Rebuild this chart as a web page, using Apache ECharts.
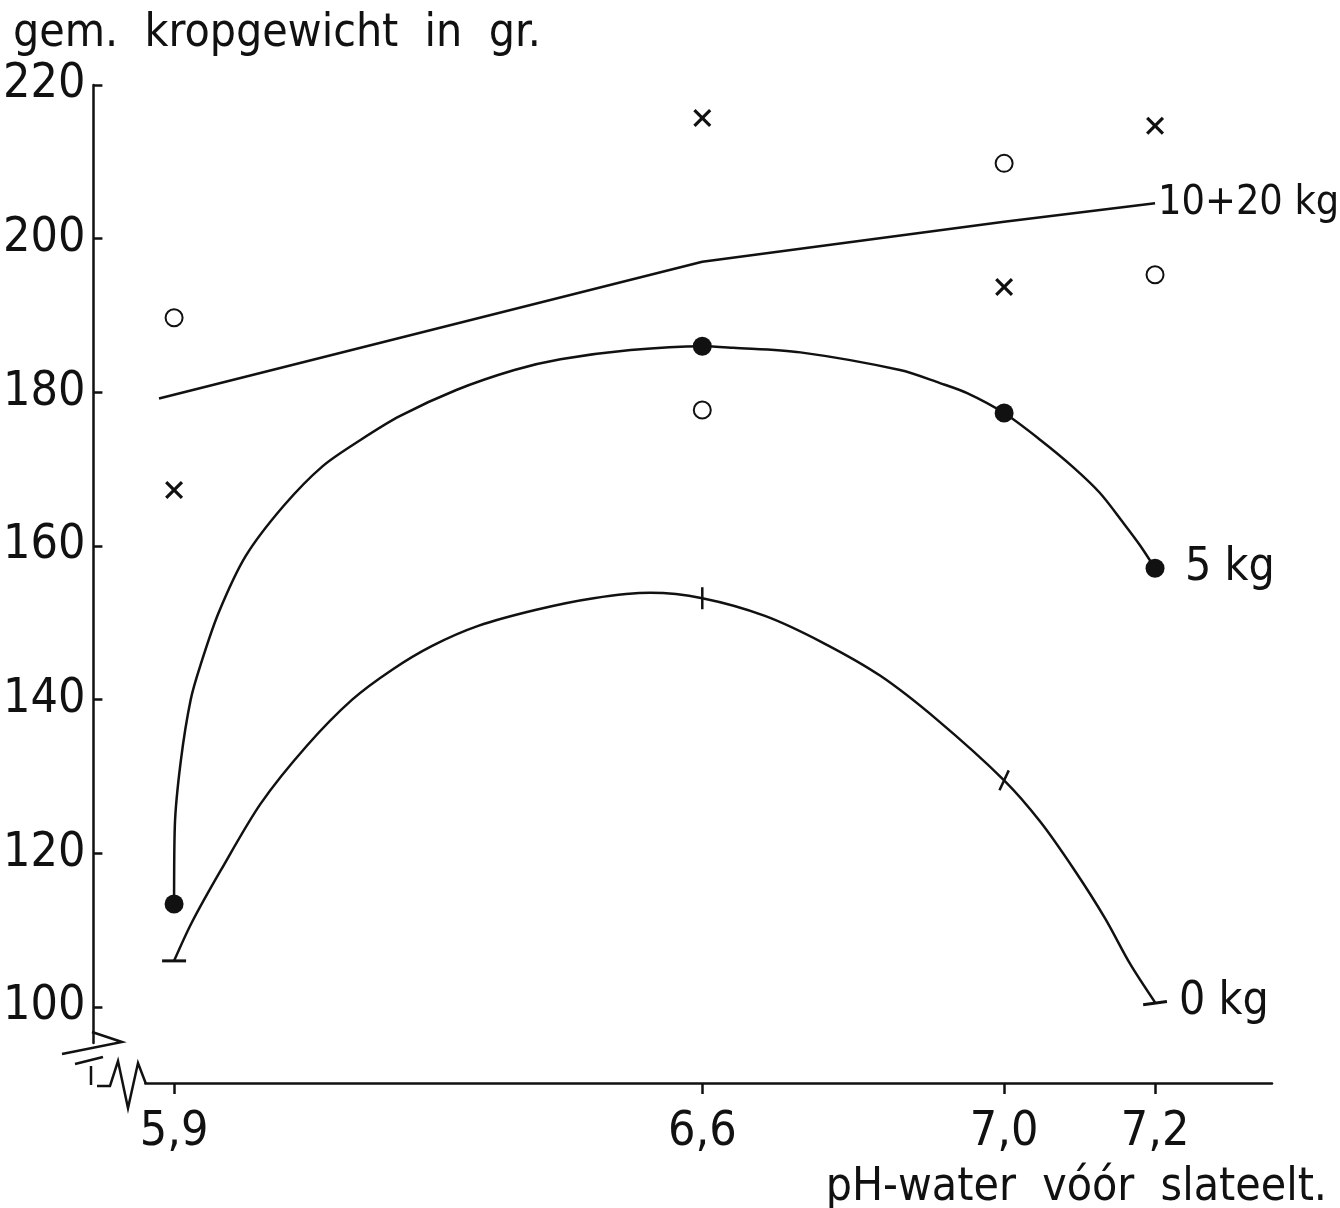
<!DOCTYPE html>
<html>
<head>
<meta charset="utf-8">
<title>kropgewicht</title>
<script src="https://cdn.jsdelivr.net/npm/echarts@6.0.0/dist/echarts.min.js"></script>
<style>
  html, body { margin: 0; padding: 0; background: #fff; }
  #chart { width: 1340px; height: 1208px; }
</style>
</head>
<body>
<div id="chart"></div>
<script>
const phTicks = [5.9, 6.6, 7.0, 7.2];
const weightTicks = [100, 120, 140, 160, 180, 200, 220];

// gemeten punten (pH, gram)
const open10kg = [[5.9, 189.7], [6.6, 177.7], [7.0, 209.8], [7.2, 195.3]];
const cross20kg = [[5.9, 167.3], [6.6, 215.7], [7.0, 193.7], [7.2, 214.7]];
const dots5kg = [[5.9, 113.4], [6.6, 186.0], [7.0, 177.3], [7.2, 157.1]];
const marks0kg = [[5.9, 106.0], [6.6, 153.2], [7.0, 129.5], [7.2, 100.5]];

// lijnen zoals getekend
const line1020kg = [[5.88, 179.2], [6.6, 197.0], [7.0, 202.2], [7.2, 204.6]];
const curve5kg = [
  [5.9, 113.4], [5.901, 123.6], [5.909, 132.1], [5.922, 140.0], [5.935, 144.5],
  [5.959, 151.3], [5.995, 158.7], [6.045, 165.2], [6.097, 170.4], [6.147, 173.8],
  [6.199, 176.9], [6.274, 180.3], [6.351, 182.9], [6.412, 184.3], [6.505, 185.5],
  [6.6, 186.0], [6.641, 185.8], [6.73, 185.2], [6.862, 182.9], [6.915, 181.2],
  [6.951, 179.9], [7.0, 177.3], [7.048, 173.8], [7.091, 170.3], [7.127, 166.9],
  [7.158, 163.0], [7.18, 160.1], [7.2, 157.1]
];
const curve0kg = [
  [5.9, 106.0], [5.923, 110.9], [5.962, 117.8], [6.015, 126.5], [6.076, 134.0],
  [6.136, 140.0], [6.189, 143.9], [6.242, 147.0], [6.303, 149.6], [6.38, 151.7],
  [6.456, 153.2], [6.531, 153.9], [6.6, 153.2], [6.683, 150.9], [6.76, 147.4],
  [6.836, 143.1], [6.911, 137.4], [7.0, 129.5], [7.048, 124.1], [7.094, 117.7],
  [7.134, 111.5], [7.167, 105.6], [7.2, 100.6]
];

const INK = '#111';
const FONT = '"Liberation Sans Narrow", "DejaVu Sans Condensed", "Liberation Sans", sans-serif';
const CROSS = 'path://M0,2.5L2.5,0L10,7.5L17.5,0L20,2.5L12.5,10L20,17.5L17.5,20L10,12.5L2.5,20L0,17.5L7.5,10Z';

// vorm van de streepjes op de 0 kg lijn
const markShape = (i) => {
  if (i === 1) return { symbol: 'rect', symbolSize: [2.5, 22], symbolRotate: 0 };
  if (i === 2) return { symbol: 'rect', symbolSize: [2.5, 22], symbolRotate: -25 };
  return { symbol: 'rect', symbolSize: [24, 3], symbolRotate: i === 3 ? 8 : 0 };
};

const chart = echarts.init(document.getElementById('chart'));

const txt = (size) => ({ fontFamily: FONT, fontSize: size, color: INK, fontWeight: 'normal' });

const curveSeries = (data, name, dist, size, smooth) => ({
  type: 'line',
  name: name,
  data: data,
  showSymbol: false,
  smooth: smooth,
  clip: false,
  lineStyle: { color: INK, width: 2.5 },
  endLabel: Object.assign({ show: true, formatter: name, distance: dist }, txt(size)),
  z: 3
});

chart.setOption({
  animation: false,
  backgroundColor: '#fff',
  title: [
    { text: 'gem.  kropgewicht  in  gr.', left: 8, top: 6, textStyle: txt(46) },
    { text: 'pH-water  vóór  slateelt.', right: 8, bottom: -8, textStyle: txt(46) }
  ],
  grid: { left: 145, right: 68, top: 85, bottom: 165 },
  xAxis: {
    type: 'value',
    min: 5.862,
    max: 7.355,
    offset: 40,
    axisLine: { show: true, onZero: false, lineStyle: { color: INK, width: 2.5 } },
    axisTick: { show: true, customValues: phTicks, length: 11, inside: false, lineStyle: { color: INK, width: 2.5 } },
    axisLabel: Object.assign({ customValues: phTicks, margin: 26, formatter: (v) => v.toFixed(1).replace('.', ',') }, txt(48)),
    splitLine: { show: false }
  },
  yAxis: {
    type: 'value',
    min: 95.31,
    max: 220,
    offset: 52,
    axisLine: { show: true, onZero: false, lineStyle: { color: INK, width: 2.5 } },
    axisTick: { show: true, customValues: weightTicks, length: 9, inside: true, lineStyle: { color: INK, width: 2.5 } },
    axisLabel: Object.assign({ customValues: weightTicks, margin: 8 }, txt(48)),
    splitLine: { show: false }
  },
  graphic: [
    { type: 'polyline', shape: { points: [[92, 1032], [122, 1042], [62, 1054]] }, style: { stroke: INK, lineWidth: 2.5, fill: null } },
    { type: 'polyline', shape: { points: [[75, 1064], [103, 1057]] }, style: { stroke: INK, lineWidth: 2.5, fill: null } },
    { type: 'polyline', shape: { points: [[91, 1066], [91, 1085]] }, style: { stroke: INK, lineWidth: 2.5, fill: null } },
    { type: 'polyline', shape: { points: [[97, 1086], [110, 1086], [118, 1061], [128, 1108], [138, 1063], [146, 1084]] }, style: { stroke: INK, lineWidth: 2.5, fill: null } }
  ],
  series: [
    curveSeries(line1020kg, '10+20 kg', 3, 41, false),
    curveSeries(curve5kg, '5 kg', 30, 46, 0.3),
    curveSeries(curve0kg, '0 kg', 24, 46, 0.3),
    {
      type: 'scatter', data: open10kg, symbol: 'emptyCircle', symbolSize: 17,
      itemStyle: { color: INK, borderColor: INK, borderWidth: 2.8, opacity: 1 }, z: 4
    },
    {
      type: 'scatter', data: cross20kg, symbol: CROSS, symbolSize: 18,
      itemStyle: { color: INK, opacity: 1 }, z: 4
    },
    {
      type: 'scatter', data: dots5kg, symbol: 'circle', symbolSize: 19,
      itemStyle: { color: INK, opacity: 1 }, z: 4
    },
    {
      type: 'scatter',
      data: marks0kg.map((p, i) => Object.assign({ value: p }, markShape(i))),
      itemStyle: { color: INK, opacity: 1 }, z: 4
    }
  ]
});
</script>
</body>
</html>
